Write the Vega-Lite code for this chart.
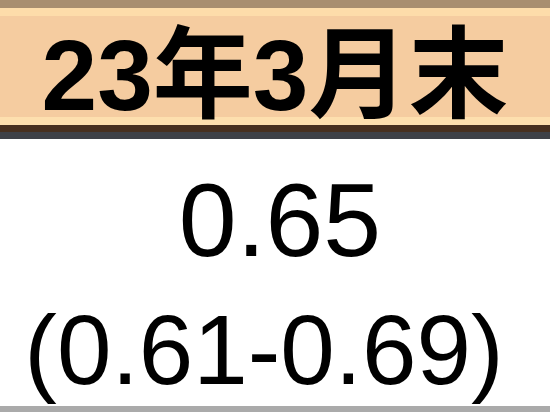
{
  "$schema": "https://vega.github.io/schema/vega-lite/v6.json",
  "width": 550,
  "height": 412,
  "autosize": "none",
  "padding": 0,
  "background": "#ffffff",
  "config": {"view": {"stroke": null}},
  "data": {
    "values": [
      {"part": "header", "label": "23年3月末"},
      {"part": "value", "label": "0.65"},
      {"part": "range", "label": "(0.61-0.69)"}
    ]
  },
  "encoding": {
    "x": {"scale": {"domain": [0, 550]}, "axis": null},
    "y": {"scale": {"domain": [0, 412], "reverse": true}, "axis": null}
  },
  "layer": [
    {
      "mark": {"type": "rect", "color": "#f5cca0"},
      "encoding": {"x": {"datum": 0, "type": "quantitative"}, "x2": {"datum": 550}, "y": {"datum": 0, "type": "quantitative"}, "y2": {"datum": 125}}
    },
    {
      "mark": {"type": "rect", "color": "#a88e70"},
      "encoding": {"x": {"datum": 0, "type": "quantitative"}, "x2": {"datum": 550}, "y": {"datum": 0, "type": "quantitative"}, "y2": {"datum": 8}}
    },
    {
      "mark": {"type": "rect", "color": "#fddcaa"},
      "encoding": {"x": {"datum": 0, "type": "quantitative"}, "x2": {"datum": 550}, "y": {"datum": 8, "type": "quantitative"}, "y2": {"datum": 16}}
    },
    {
      "mark": {"type": "rect", "color": "#fddfae"},
      "encoding": {"x": {"datum": 0, "type": "quantitative"}, "x2": {"datum": 550}, "y": {"datum": 117, "type": "quantitative"}, "y2": {"datum": 125}}
    },
    {
      "mark": {"type": "rect", "color": "#47301f"},
      "encoding": {"x": {"datum": 0, "type": "quantitative"}, "x2": {"datum": 550}, "y": {"datum": 125, "type": "quantitative"}, "y2": {"datum": 132}}
    },
    {
      "mark": {"type": "rect", "color": "#3e4147"},
      "encoding": {"x": {"datum": 0, "type": "quantitative"}, "x2": {"datum": 550}, "y": {"datum": 132, "type": "quantitative"}, "y2": {"datum": 139}}
    },
    {
      "mark": {"type": "rect", "color": "#aaaaaa"},
      "encoding": {"x": {"datum": 0, "type": "quantitative"}, "x2": {"datum": 550}, "y": {"datum": 406, "type": "quantitative"}, "y2": {"datum": 412}}
    },
    {
      "transform": [{"filter": "datum.part == 'header'"}],
      "mark": {"type": "text", "font": "Liberation Sans, Noto Sans CJK JP", "fontWeight": "bold", "fontSize": 100, "baseline": "alphabetic", "align": "center", "color": "#000000"},
      "encoding": {"x": {"datum": 275, "type": "quantitative"}, "y": {"datum": 110, "type": "quantitative"}, "text": {"field": "label"}}
    },
    {
      "transform": [{"filter": "datum.part == 'value'"}],
      "mark": {"type": "text", "font": "Liberation Sans", "fontSize": 104, "baseline": "alphabetic", "align": "center", "color": "#000000"},
      "encoding": {"x": {"datum": 280, "type": "quantitative"}, "y": {"datum": 256, "type": "quantitative"}, "text": {"field": "label"}}
    },
    {
      "transform": [{"filter": "datum.part == 'range'"}],
      "mark": {"type": "text", "font": "Liberation Sans", "fontSize": 98, "baseline": "alphabetic", "align": "center", "color": "#000000"},
      "encoding": {"x": {"datum": 264, "type": "quantitative"}, "y": {"datum": 384, "type": "quantitative"}, "text": {"field": "label"}}
    }
  ]
}
